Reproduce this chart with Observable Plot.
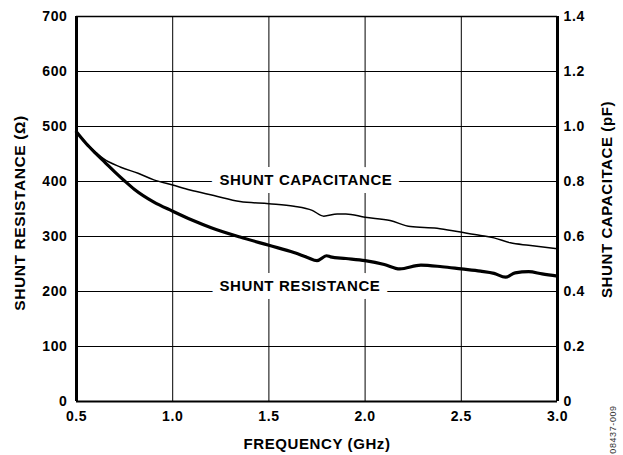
<!DOCTYPE html>
<html><head><meta charset="utf-8">
<script src="https://cdn.jsdelivr.net/npm/d3@7"></script>
<script src="https://cdn.jsdelivr.net/npm/@observablehq/plot@0.6"></script>
<style>body{margin:0;background:#fff} svg{display:block}</style>
</head><body><div id="chart"></div>
<script>
const resFreq = [0.5,0.55,0.6,0.65,0.7,0.75,0.8,0.9,1.0,1.1,1.2,1.35,1.5,1.63,1.7,1.75,1.8,1.82,1.9,2.0,2.1,2.18,2.29,2.4,2.5,2.6,2.67,2.73,2.78,2.85,2.92,3.0];
const resOhm  = [490,469,451,434,417,401,386,363,346,330,316,299,284,271,262,256,265,263,260,256,249,241,248,245,241,237,233,226,234,236,232,228];
const capFreq = [0.5,0.55,0.6,0.642,0.73,0.82,0.902,1.0,1.09,1.214,1.35,1.5,1.63,1.725,1.785,1.855,1.9,2.0,2.13,2.236,2.374,2.496,2.6,2.67,2.755,2.85,3.0];
const capPF   = [0.98,0.94,0.906,0.882,0.852,0.83,0.806,0.787,0.769,0.749,0.727,0.719,0.710,0.695,0.674,0.682,0.682,0.670,0.658,0.636,0.630,0.616,0.604,0.595,0.577,0.568,0.555];
const xTicks = [0.5,1.0,1.5,2.0,2.5,3.0];
const yTicks = [0,100,200,300,400,500,600,700];
const capTicks = [0,0.2,0.4,0.6,0.8,1.0,1.2,1.4];
const labelText = ["SHUNT CAPACITANCE","SHUNT RESISTANCE"];
const labelFreq = [1.243,1.243];
const labelOhm = [403,209];
const capScale = 500; // 1.4 pF <-> 700 Ω

const res = resFreq.map((f,i)=>({f, v: resOhm[i]}));
const cap = capFreq.map((f,i)=>({f, v: capPF[i]*capScale}));
const labels = labelText.map((t,i)=>({t, f: labelFreq[i], v: labelOhm[i]}));
const font = "'Liberation Sans', Arial, Helvetica, sans-serif";
const fmtCap = d => { const c = d/capScale; return Math.abs(c) < 1e-9 ? "0" : c.toFixed(1); };

const chart = Plot.plot({
  width: 623, height: 455,
  marginLeft: 76, marginRight: 66, marginTop: 16, marginBottom: 54,
  style: {fontFamily: font, fontSize: "14px", fontWeight: "bold", color: "#000", background: "#fff", letterSpacing: "0.6px"},
  x: {domain: [0.5, 3.0]},
  y: {domain: [0, 700]},
  marks: [
    Plot.gridX(xTicks, {stroke: "#000", strokeOpacity: 1, strokeWidth: 1}),
    Plot.gridY(yTicks, {stroke: "#000", strokeOpacity: 1, strokeWidth: 1}),
    Plot.ruleY([0], {stroke: "#000", strokeWidth: 2}),
    Plot.ruleY([700], {stroke: "#000", strokeWidth: 1.5}),
    Plot.ruleX([0.5], {stroke: "#000", strokeWidth: 3}),
    Plot.ruleX([3.0], {stroke: "#000", strokeWidth: 3}),
    Plot.axisX(xTicks, {tickSize: 0, tickPadding: 10, tickFormat: d => d.toFixed(1), label: null, fontSize: 14, fontWeight: "bold"}),
    Plot.axisY(yTicks, {anchor: "left", tickSize: 0, tickPadding: 9, tickFormat: d => String(d), label: null, fontSize: 14, fontWeight: "bold"}),
    Plot.axisY(capTicks.map(c => c*capScale), {anchor: "right", tickSize: 0, tickPadding: 6, tickFormat: fmtCap, label: null, fontSize: 14, fontWeight: "bold"}),
    Plot.text(labels, {x: "f", y: "v", text: "t", textAnchor: "start", lineAnchor: "middle", fontSize: 15, fontWeight: "bold", fill: "#000", stroke: "#fff", strokeWidth: 16, strokeLinejoin: "round", paintOrder: "stroke"}),
    Plot.line(cap, {x: "f", y: "v", curve: "monotone-x", stroke: "#000", strokeWidth: 1.5, strokeLinejoin: "round"}),
    Plot.line(res, {x: "f", y: "v", curve: "monotone-x", stroke: "#000", strokeWidth: 3.2, strokeLinejoin: "round"}),
    Plot.text(["SHUNT RESISTANCE (Ω)"], {frameAnchor: "left", dx: -56, dy: 4, rotate: -90, textAnchor: "middle", lineAnchor: "middle", text: d => d, fontSize: 15.5, fontWeight: "bold"}),
    Plot.text(["SHUNT CAPACITACE (pF)"], {frameAnchor: "right", dx: 50, dy: -9.5, rotate: -90, textAnchor: "middle", lineAnchor: "middle", text: d => d, fontSize: 15, fontWeight: "bold"}),
    Plot.text(["FREQUENCY (GHz)"], {frameAnchor: "bottom", dy: 43, textAnchor: "middle", lineAnchor: "middle", text: d => d, fontSize: 15, fontWeight: "bold"}),
    Plot.text(["08437-009"], {frameAnchor: "bottom-right", dx: 56, dy: 28, rotate: -90, textAnchor: "middle", lineAnchor: "middle", text: d => d, fontSize: 9, fontWeight: "normal", fill: "#333"})
  ]
});
document.getElementById("chart").appendChild(chart);
</script>
</body></html>
